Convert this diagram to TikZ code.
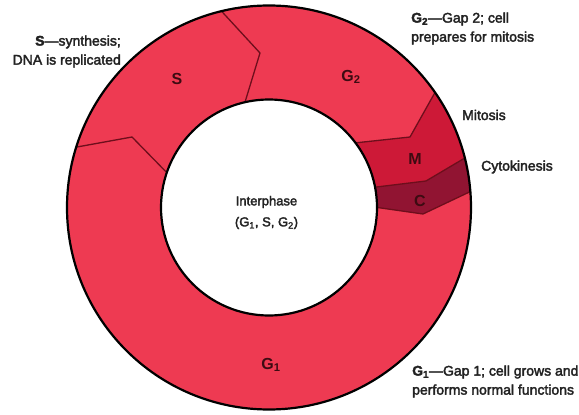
\documentclass[tikz,border=0pt]{standalone}
\usepackage{fontspec}
\setmainfont{Liberation Sans}
\newfontfamily\labfont{Liberation Sans}[FakeBold=2.5]
\definecolor{gcol}{HTML}{EE3A52}
\definecolor{mcol}{HTML}{CD1937}
\definecolor{ccol}{HTML}{911432}
\definecolor{bndcol}{HTML}{6E0E1C}
\definecolor{inkcol}{HTML}{3D0B12}
\definecolor{txtcol}{HTML}{222222}
\begin{document}
\begin{tikzpicture}[x=1pt,y=-1pt,
  ring/.style={draw=black,line width=2.2pt},
  bnd/.style={draw=bndcol,line width=1.3pt,line join=round},
  phase/.style={font=\bfseries\fontsize{16}{18}\selectfont,text=inkcol,inner sep=0pt},
  desc/.style={font=\labfont\fontsize{14}{19}\selectfont,text=txtcol,inner sep=0pt},
  inter/.style={font=\labfont\fontsize{13}{21}\selectfont,text=txtcol,inner sep=0pt,align=center}]
\useasboundingbox (0,0) rectangle (579,415);
\fill[white] (0,0) rectangle (579,415);
\coordinate (O) at (269,207.5);
% ring
\fill[gcol] (O) circle[radius=202pt];
\begin{scope}
  \clip (O) circle[radius=202pt];
  % mitosis
  \fill[mcol] (442,80) -- (410,137) -- (345,144) -- (360,189) -- (426,181) -- (475,152) -- (500,120) -- (470,70) -- cycle;
  % cytokinesis
  \fill[ccol] (475,152) -- (426,181) -- (360,189) -- (360,205) -- (423,214) -- (480,187) -- (500,170) -- cycle;
  % boundaries
  \draw[bnd] (66,149) -- (132,137) -- (175,181);
  \draw[bnd] (214,3) -- (260,53) -- (242,112);
  \draw[bnd] (442,80) -- (410,137) -- (345,144);
  \draw[bnd] (475,152) -- (426,181) -- (360,189);
  \draw[bnd] (480,187) -- (423,214) -- (360,205);
\end{scope}
\fill[white] (O) circle[radius=108pt];
\draw[ring] (O) circle[radius=202pt];
\draw[ring] (O) circle[radius=108pt];
% phase labels
\node[phase] (lS) at (177,79) {S};
\node[phase] (lG2) at (351,77) {G\textsubscript{2}};
\node[phase] (lM) at (415,159) {M};
\node[phase] (lC) at (420,201) {C};
\node[phase] (lG1) at (271,365) {G\textsubscript{1}};
% interphase
\node[inter] (lI) at (266.5,212.5) {Interphase\\(G\textsubscript{1}, S, G\textsubscript{2})};
% descriptions
\node[desc,anchor=east,align=right] (dS) at (121,51.5) {\textbf{S}—synthesis;\\DNA is replicated};
\node[desc,anchor=west,align=left] (dG2) at (411,28.5) {\textbf{G\textsubscript{2}}—Gap 2; cell\\prepares for mitosis};
\node[desc,anchor=west] (dM) at (462,115) {Mitosis};
\node[desc,anchor=west] (dC) at (481,167) {Cytokinesis};
\node[desc,anchor=west,align=left] (dG1) at (412,381.5) {\textbf{G\textsubscript{1}}—Gap 1; cell grows and\\performs normal functions};
\end{tikzpicture}
\end{document}
